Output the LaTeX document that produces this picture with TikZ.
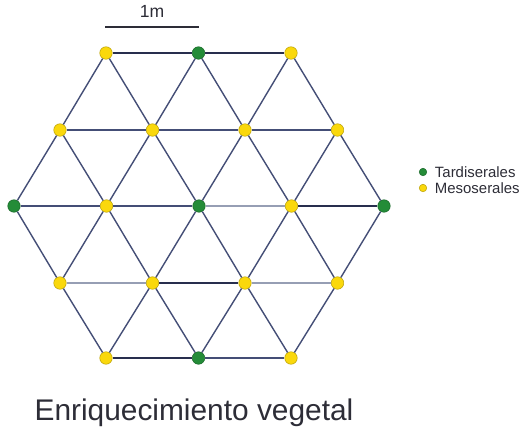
\documentclass[tikz,border=0pt]{standalone}
\usepackage{fontspec}
\setmainfont{Liberation Sans}
\usetikzlibrary{positioning}
\definecolor{mygreen}{RGB}{36,140,56}
\definecolor{myyellow}{RGB}{250,216,12}
\definecolor{mylink}{RGB}{68,78,118}
\definecolor{mylinklight}{RGB}{150,158,180}
\definecolor{mylinkdark}{RGB}{40,46,78}
\definecolor{mytext}{RGB}{45,45,55}

\tikzset{
    seed/.style={circle, inner sep=0pt, minimum size=0.25cm, fill=#1, draw=#1!75!black, line width=0.3pt},
    legendseed/.style={seed=#1, minimum size=0.15cm},
    link/.style={mylink, line width=0.8pt},
    linkdark/.style={mylinkdark, line width=1.1pt},
    linklight/.style={mylinklight, line width=0.8pt}
}

\begin{document}
\begin{tikzpicture}[x=0.02cm, y=-0.02cm]
    \useasboundingbox (0,0) rectangle (525,434);

    % Seed points of the hexagonal grid
    \foreach \r/\y/\xs/\cols in {
        1/53/106/{myyellow,mygreen,myyellow},
        2/130/60/{myyellow,myyellow,myyellow,myyellow},
        3/206/14/{mygreen,myyellow,mygreen,myyellow,mygreen},
        4/283/60/{myyellow,myyellow,myyellow,myyellow},
        5/358/106/{myyellow,mygreen,myyellow}} {
        \foreach \c [count=\i] in \cols {
            \node[seed=\c] (p\r-\i) at ({\xs+(\i-1)*92.5}, \y) {};
        }
    }

    % Diagonal links, upper half
    \foreach \r/\n in {1/3, 2/4} {
        \pgfmathtruncatemacro{\s}{\r+1}
        \foreach \i in {1,...,\n} {
            \pgfmathtruncatemacro{\j}{\i+1}
            \draw[link] (p\r-\i) -- (p\s-\i);
            \draw[link] (p\r-\i) -- (p\s-\j);
        }
    }
    % Diagonal links, lower half
    \foreach \r/\n in {3/4, 4/3} {
        \pgfmathtruncatemacro{\s}{\r+1}
        \foreach \i in {1,...,\n} {
            \pgfmathtruncatemacro{\j}{\i+1}
            \draw[link] (p\s-\i) -- (p\r-\i);
            \draw[link] (p\s-\i) -- (p\r-\j);
        }
    }

    % Horizontal links
    \draw[linkdark] (p1-1) -- (p1-2);
    \draw[linkdark] (p1-2) -- (p1-3);
    \draw[link] (p2-1) -- (p2-2);
    \draw[link] (p2-2) -- (p2-3);
    \draw[link] (p2-3) -- (p2-4);
    \draw[link] (p3-1) -- (p3-2);
    \draw[link] (p3-2) -- (p3-3);
    \draw[linklight] (p3-3) -- (p3-4);
    \draw[linkdark] (p3-4) -- (p3-5);
    \draw[linklight] (p4-1) -- (p4-2);
    \draw[linkdark] (p4-2) -- (p4-3);
    \draw[linklight] (p4-3) -- (p4-4);
    \draw[linkdark] (p5-1) -- (p5-2);
    \draw[link] (p5-2) -- (p5-3);

    % Scale bar
    \coordinate (barL) at (105,27);
    \coordinate (barR) at (199,27);
    \draw[mytext, line width=0.6pt] (barL) -- node[above=2pt, text=mytext, font=\fontsize{10}{12}\selectfont] (barlabel) {1m} (barR);

    % Legend
    \node[legendseed=mygreen] (keyT) at (423,172) {};
    \node[legendseed=myyellow] (keyM) at (423,188) {};
    \node[right=1pt of keyT, text=mytext, font=\fontsize{8.5}{10}\selectfont] (keyTtext) {Tardiserales};
    \node[right=1pt of keyM, text=mytext, font=\fontsize{8.5}{10}\selectfont] (keyMtext) {Mesoserales};

    % Title
    \node[text=mytext, font=\fontsize{17}{20}\selectfont] (title) at (194,413) {Enriquecimiento vegetal};
\end{tikzpicture}
\end{document}
